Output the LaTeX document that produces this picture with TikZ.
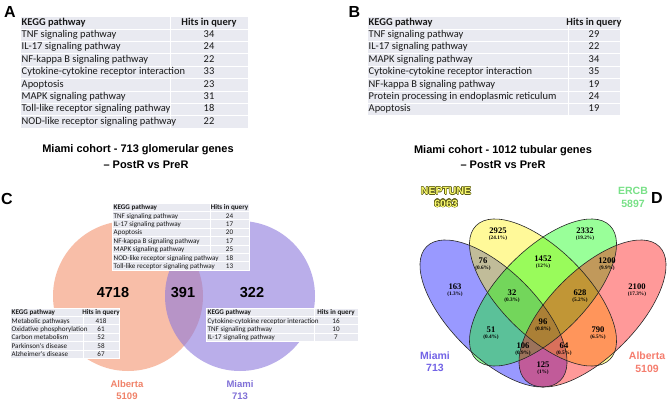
\documentclass[tikz,border=0pt]{standalone}
\usepackage{fontspec}
\setmainfont{Liberation Sans}
\newfontfamily\calib{Carlito}
\newfontfamily\tmsf{Liberation Serif}
\usepackage[copies]{contour}
\contourlength{0.45pt}
\definecolor{tabbg}{RGB}{233,234,241}
\definecolor{vpink}{RGB}{248,190,168}
\definecolor{vpurp}{RGB}{140,120,220}
\definecolor{labpink}{RGB}{240,130,105}
\definecolor{labpurp}{RGB}{128,112,215}
\definecolor{dmiami}{RGB}{115,100,230}
\definecolor{dalb}{RGB}{245,125,110}
\definecolor{dercb}{RGB}{120,225,135}
\definecolor{dnep}{RGB}{250,250,110}
\definecolor{dnepo}{RGB}{90,90,20}
% #1 prefix, #2 x, #3 y, #4 w1, #5 w2, #6 row h, #7 font size, #8 rows
\newcommand\keggtable[8]{%
  \foreach \nm/\val [count=\i from 0] in {#8} {
    \path[cellbox] (#2,{#3+\i*#6}) rectangle ({#2+#4},{#3+(\i+1)*#6});
    \path[cellbox] ({#2+#4},{#3+\i*#6}) rectangle ({#2+#4+#5},{#3+(\i+1)*#6});
    \node[celltxt, anchor=west, font=\calib\fontsize{#7}{#7}\selectfont] (#1-\i-a) at ({#2+1.5},{#3+(\i+0.5)*#6}) {\nm};
    \node[celltxt, font=\calib\fontsize{#7}{#7}\selectfont] (#1-\i-b) at ({#2+#4+#5/2},{#3+(\i+0.5)*#6}) {\val};
  }%
}
\begin{document}
\begin{tikzpicture}[x=1pt,y=-1pt,
  cellbox/.style={fill=tabbg, draw=white, line width=0.7pt},
  celltxt/.style={inner sep=0pt, text height=0.7em, text depth=0.2em, text=black!90},
  ttl/.style={font=\bfseries\fontsize{11}{13}\selectfont, inner sep=0},
  panellet/.style={font=\bfseries\fontsize{16}{16}\selectfont, inner sep=0},
  bignum/.style={font=\bfseries\fontsize{14.5}{14.5}\selectfont, inner sep=0},
  clab/.style={font=\bfseries\fontsize{9.5}{11.5}\selectfont, align=center, inner sep=0},
  dlab/.style={font=\bfseries\fontsize{10.5}{12.5}\selectfont, align=center, inner sep=0},
  vnum/.style={font=\tmsf\bfseries\fontsize{8.6}{8.6}\selectfont, inner sep=0},
  vpct/.style={font=\tmsf\bfseries\fontsize{5.3}{5.3}\selectfont, inner sep=0},
  vfill/.style={fill opacity=0.4},
  vline/.style={draw=black!85, line width=0.6pt},
]
\useasboundingbox[fill=white] (0,0) rectangle (672,401);

% panel letters
\node[panellet] (pA) at (10,12) {A};
\node[panellet] (pB) at (354.5,12) {B};
\node[panellet] (pC) at (7,199) {C};
\node[panellet] (pD) at (657,198) {D};

% tables A and B
\keggtable{tA}{20}{16.5}{150}{78}{12.4}{10.45}{{\bfseries KEGG pathway}/{\bfseries Hits in query},
 TNF signaling pathway/34, IL-17 signaling pathway/24, NF-kappa B signaling pathway/22,
 Cytokine-cytokine receptor interaction/33, Apoptosis/23, MAPK signaling pathway/31,
 Toll-like receptor signaling pathway/18, NOD-like receptor signaling pathway/22}
\keggtable{tB}{367}{16.5}{201}{52}{12.4}{10.45}{{\bfseries KEGG pathway}/{\bfseries Hits in query},
 TNF signaling pathway/29, IL-17 signaling pathway/22, MAPK signaling pathway/34,
 Cytokine-cytokine receptor interaction/35, NF-kappa B signaling pathway/19,
 Protein processing in endoplasmic reticulum/24, Apoptosis/19}

% titles
\node[ttl] (tC1) at (138,150) {Miami cohort - 713 glomerular genes};
\node[ttl] (tC2) at (146,164.5) {– PostR vs PreR};
\node[ttl] (tD1) at (503,151) {Miami cohort - 1012 tubular genes};
\node[ttl] (tD2) at (503,164.5) {– PostR vs PreR};

% Venn C
\fill[vpink] (128,296) circle (75pt);
\fill[vpurp, fill opacity=0.6] (240,296) circle (75pt);
\node[bignum] (c4718) at (113,293) {4718};
\node[bignum] (c391) at (183,293) {391};
\node[bignum] (c322) at (252,293) {322};
\keggtable{tCm}{112}{203}{98}{39}{8.4}{7.1}{{\bfseries KEGG pathway}/{\bfseries Hits in query},
 TNF signaling pathway/24, IL-17 signaling pathway/17, Apoptosis/20,
 NF-kappa B signaling pathway/17, MAPK signaling pathway/25,
 NOD-like receptor signaling pathway/18, Toll-like receptor signaling pathway/13}
\keggtable{tCl}{10}{308}{73}{36}{8.4}{7.1}{{\bfseries KEGG pathway}/{\bfseries Hits in query},
 Metabolic pathways/418, Oxidative phosphorylation/61, Carbon metabolism/52,
 Parkinson's disease/58, Alzheimer's disease/67}
\keggtable{tCr}{206}{308}{108}{44}{8.4}{7.1}{{\bfseries KEGG pathway}/{\bfseries Hits in query},
 Cytokine-cytokine receptor interaction/16, TNF signaling pathway/10, IL-17 signaling pathway/7}
\node[clab, text=labpink] (cAlb) at (127,390) {Alberta\\5109};
\node[clab, text=labpurp] (cMia) at (240,390) {Miami\\713};

% Venn D
\begin{scope}[vfill]
\fill[blue, rotate around={-45:(493.5,313.5)}] (493.5,313.5) ellipse [x radius=94.6pt, y radius=43.1pt];
\fill[yellow, rotate around={-45:(543,292.5)}] (543,292.5) ellipse [x radius=94.6pt, y radius=43.1pt];
\fill[green, rotate around={45:(543,292.5)}] (543,292.5) ellipse [x radius=94.6pt, y radius=43.1pt];
\fill[red, rotate around={45:(592.5,313.5)}] (592.5,313.5) ellipse [x radius=94.6pt, y radius=43.1pt];
\end{scope}
\path[vline, rotate around={-45:(493.5,313.5)}] (493.5,313.5) ellipse [x radius=94.6pt, y radius=43.1pt];
\path[vline, rotate around={-45:(543,292.5)}] (543,292.5) ellipse [x radius=94.6pt, y radius=43.1pt];
\path[vline, rotate around={45:(543,292.5)}] (543,292.5) ellipse [x radius=94.6pt, y radius=43.1pt];
\path[vline, rotate around={45:(592.5,313.5)}] (592.5,313.5) ellipse [x radius=94.6pt, y radius=43.1pt];

\foreach \nx/\ny/\nn/\pp in {498/231/2925/24.1, 585/231/2332/19.2, 483/261/76/0.6, 543/259/1452/12,
  607/261/1200/9.9, 455/287/163/1.3, 512/293/32/0.3, 580/293/628/5.2, 637/287/2100/17.3,
  543/322/96/0.8, 491/330/51/0.4, 598/330/790/6.5, 523/346/106/0.9, 564/346/64/0.5, 543/365/125/1} {
  \node[vnum] (dn\nn) at (\nx,\ny) {\nn};
  \node[vpct] (dp\nn) at (\nx,\ny+7.3) {(\pp\%)};
}

\node[dlab, text=dnep] (dNep) at (446,197.5) {\contour{dnepo}{NEPTUNE}\\\contour{dnepo}{6063}};
\node[dlab, text=dercb] (dErcb) at (633,197.5) {ERCB\\5897};
\node[dlab, text=dmiami] (dMia) at (435,362) {Miami\\713};
\node[dlab, text=dalb] (dAlb) at (647,362) {Alberta\\5109};
\end{tikzpicture}
\end{document}
